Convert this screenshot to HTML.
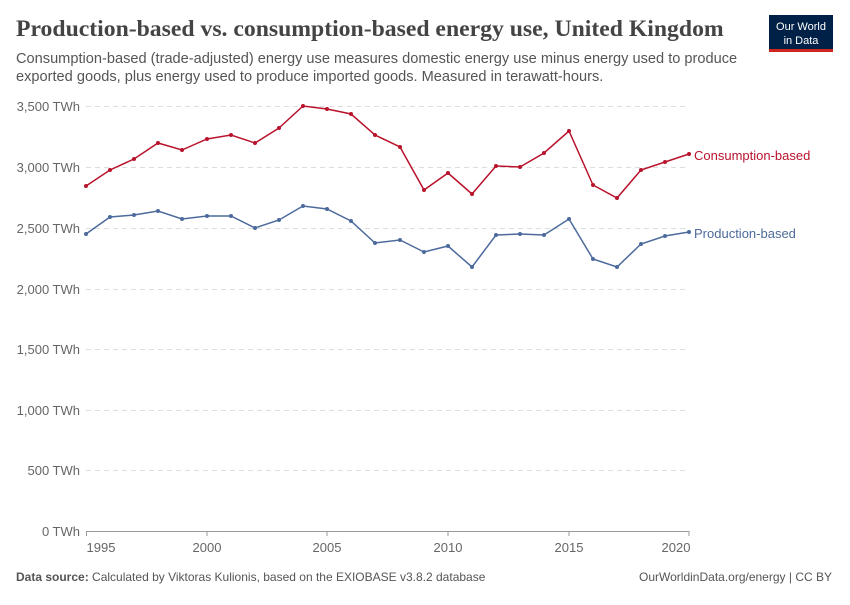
<!DOCTYPE html>
<html><head><meta charset="utf-8"><style>
body{margin:0;background:#fff;width:850px;height:600px;overflow:hidden;font-family:"Liberation Sans",sans-serif}
</style></head><body>
<svg width="850" height="600" xmlns="http://www.w3.org/2000/svg" font-family="Liberation Sans, sans-serif">
<text x="16" y="36" font-family="Liberation Serif, serif" font-size="23.7" font-weight="bold" fill="#444">Production-based vs. consumption-based energy use, United Kingdom</text>
<text x="16" y="63" font-size="14.6" fill="#555">Consumption-based (trade-adjusted) energy use measures domestic energy use minus energy used to produce</text>
<text x="16" y="81" font-size="14.6" fill="#555">exported goods, plus energy used to produce imported goods. Measured in terawatt-hours.</text>
<rect x="769" y="15" width="64" height="36" fill="#002147"/>
<rect x="769" y="49" width="64" height="3" fill="#ce261e"/>
<text x="801" y="30" font-size="11" fill="#fff" text-anchor="middle">Our World</text>
<text x="801" y="44" font-size="11" fill="#fff" text-anchor="middle">in Data</text>
<g stroke="#ddd" stroke-dasharray="5,4">
<line x1="86" x2="689" y1="106.5" y2="106.5"/><line x1="86" x2="689" y1="167.5" y2="167.5"/><line x1="86" x2="689" y1="228.5" y2="228.5"/><line x1="86" x2="689" y1="289.5" y2="289.5"/><line x1="86" x2="689" y1="349.5" y2="349.5"/><line x1="86" x2="689" y1="410.5" y2="410.5"/><line x1="86" x2="689" y1="470.5" y2="470.5"/>
</g>
<line x1="86" x2="689" y1="531.5" y2="531.5" stroke="#999"/>
<g font-size="13" fill="#666" text-anchor="end">
<text x="80" y="111">3,500 TWh</text><text x="80" y="172">3,000 TWh</text><text x="80" y="233">2,500 TWh</text><text x="80" y="294">2,000 TWh</text><text x="80" y="354">1,500 TWh</text><text x="80" y="415">1,000 TWh</text><text x="80" y="475">500 TWh</text><text x="80" y="536">0 TWh</text>
</g>
<g font-size="13" fill="#666" text-anchor="middle">
<text x="101" y="552">1995</text><text x="207" y="552">2000</text><text x="327" y="552">2005</text><text x="448" y="552">2010</text><text x="569" y="552">2015</text><text x="676" y="552">2020</text>
</g>
<g stroke="#999"><line x1="86.5" x2="86.5" y1="531" y2="536"/><line x1="207" x2="207" y1="531" y2="536"/><line x1="327" x2="327" y1="531" y2="536"/><line x1="448" x2="448" y1="531" y2="536"/><line x1="569" x2="569" y1="531" y2="536"/><line x1="689" x2="689" y1="531" y2="536"/></g>
<polyline fill="none" stroke="#b9132c" stroke-width="1.5" points="86,186 110,170 134,159 158,143 182,150 207,139 231,135 255,143 279,128 303,106 327,109 351,114 375,135 400,147 424,190 448,173 472,194 496,166 520,167 544,153 569,131 593,185 617,198 641,170 665,162 689,154"/>
<polyline fill="none" stroke="#4c6a9c" stroke-width="1.5" points="86,234 110,217 134,215 158,211 182,219 207,216 231,216 255,228 279,220 303,206 327,209 351,221 375,243 400,240 424,252 448,246 472,267 496,235 520,234 544,235 569,219 593,259 617,267 641,244 665,236 689,232"/>
<g fill="#b9132c"><circle cx="86" cy="186" r="2"/><circle cx="110" cy="170" r="2"/><circle cx="134" cy="159" r="2"/><circle cx="158" cy="143" r="2"/><circle cx="182" cy="150" r="2"/><circle cx="207" cy="139" r="2"/><circle cx="231" cy="135" r="2"/><circle cx="255" cy="143" r="2"/><circle cx="279" cy="128" r="2"/><circle cx="303" cy="106" r="2"/><circle cx="327" cy="109" r="2"/><circle cx="351" cy="114" r="2"/><circle cx="375" cy="135" r="2"/><circle cx="400" cy="147" r="2"/><circle cx="424" cy="190" r="2"/><circle cx="448" cy="173" r="2"/><circle cx="472" cy="194" r="2"/><circle cx="496" cy="166" r="2"/><circle cx="520" cy="167" r="2"/><circle cx="544" cy="153" r="2"/><circle cx="569" cy="131" r="2"/><circle cx="593" cy="185" r="2"/><circle cx="617" cy="198" r="2"/><circle cx="641" cy="170" r="2"/><circle cx="665" cy="162" r="2"/><circle cx="689" cy="154" r="2"/></g>
<g fill="#4c6a9c"><circle cx="86" cy="234" r="2"/><circle cx="110" cy="217" r="2"/><circle cx="134" cy="215" r="2"/><circle cx="158" cy="211" r="2"/><circle cx="182" cy="219" r="2"/><circle cx="207" cy="216" r="2"/><circle cx="231" cy="216" r="2"/><circle cx="255" cy="228" r="2"/><circle cx="279" cy="220" r="2"/><circle cx="303" cy="206" r="2"/><circle cx="327" cy="209" r="2"/><circle cx="351" cy="221" r="2"/><circle cx="375" cy="243" r="2"/><circle cx="400" cy="240" r="2"/><circle cx="424" cy="252" r="2"/><circle cx="448" cy="246" r="2"/><circle cx="472" cy="267" r="2"/><circle cx="496" cy="235" r="2"/><circle cx="520" cy="234" r="2"/><circle cx="544" cy="235" r="2"/><circle cx="569" cy="219" r="2"/><circle cx="593" cy="259" r="2"/><circle cx="617" cy="267" r="2"/><circle cx="641" cy="244" r="2"/><circle cx="665" cy="236" r="2"/><circle cx="689" cy="232" r="2"/></g>
<text x="694" y="160" font-size="13" fill="#b9132c">Consumption-based</text>
<text x="694" y="238" font-size="13" fill="#4c6a9c">Production-based</text>
<text x="16" y="581" font-size="12" fill="#555"><tspan font-weight="bold">Data source:</tspan> Calculated by Viktoras Kulionis, based on the EXIOBASE v3.8.2 database</text>
<text x="832" y="581" font-size="12" fill="#555" text-anchor="end">OurWorldinData.org/energy | CC BY</text>
</svg>
</body></html>
